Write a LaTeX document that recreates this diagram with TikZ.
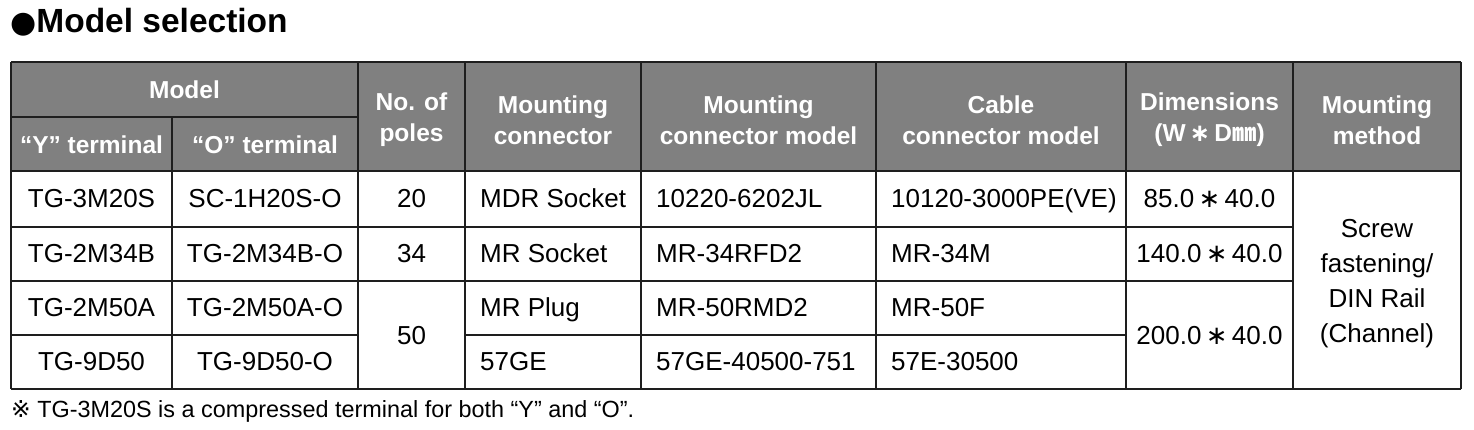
\documentclass[tikz,border=0pt]{standalone}
\usepackage{fontspec}
\setmainfont{Liberation Sans}
\newfontfamily\dejavu{DejaVu Sans}
\newfontfamily\cjk{Noto Sans CJK KR}
\definecolor{hdgray}{HTML}{808080}
\definecolor{gridc}{HTML}{1E1E1E}
\begin{document}
\begin{tikzpicture}[x=1pt,y=-1pt,
  hd/.style={font=\fontsize{24.5}{31}\selectfont\bfseries, text=white, align=center, inner sep=0pt},
  bd/.style={font=\fontsize{26}{35}\selectfont, text=black, align=center, inner sep=0pt, text height=18.6pt, text depth=0pt},
  bdm/.style={font=\fontsize{26}{35}\selectfont, text=black, align=center, inner sep=0pt},
  bl/.style={bd, anchor=west},
  gridline/.style={line width=1.4pt, draw=gridc}
]
\useasboundingbox (0,0) rectangle (1474,430);
% title
\node[anchor=west, inner sep=0pt, font=\fontsize{33.5}{38}\selectfont\bfseries] (title) at (10,22) {{\dejavu\fontsize{30}{30}\selectfont ●}Model selection};
% backgrounds
\fill[hdgray] (11,62) rectangle (1461,171);
\fill[white] (11,171) rectangle (1461,389);
% grid
\draw[gridline] (11,62) -- (1461,62);
\draw[gridline] (11,117) -- (358,117);
\draw[gridline] (11,171) -- (1461,171);
\draw[gridline] (11,227) -- (1293,227);
\draw[gridline] (11,281) -- (1293,281);
\draw[gridline] (11,335) -- (358,335);
\draw[gridline] (465,335) -- (1126,335);
\draw[gridline] (11,389) -- (1461,389);
\draw[gridline] (11,62) -- (11,389);
\draw[gridline] (172,117) -- (172,389);
\foreach \x in {358,465,641,876,1126,1293,1461} \draw[gridline] (\x,62) -- (\x,389);
% header
\node[hd] (hmodel) at (184.5,90) {Model};
\node[hd] (hy) at (91.5,144.5) {“Y” terminal};
\node[hd] (ho) at (265,144.5) {“O” terminal};
\node[hd] (hpoles) at (411.5,120) {No. of\\poles};
\node[hd] (hmc) at (553,120) {Mounting\\connector};
\node[hd] (hmcm) at (758.5,120) {Mounting\\connector model};
\node[hd] (hccm) at (1001,120) {Cable\\connector model};
\node[hd] (hdim) at (1209.5,120) {Dimensions\\(W{\dejavu\,∗\,}D{\cjk ㎜})};
\node[hd] (hmeth) at (1377,120) {Mounting\\method};
% body row 1
\node[bd] (y1) at (91.5,198.5) {TG-3M20S};
\node[bd] (o1) at (265,198.5) {SC-1H20S-O};
\node[bd] (p1) at (411.5,198.5) {20};
\node[bl] (mc1) at (480,198.5) {MDR Socket};
\node[bl] (mcm1) at (656,198.5) {10220-6202JL};
\node[bl] (ccm1) at (891,198.5) {10120-3000PE(VE)};
\node[bd] (d1) at (1209.5,198.5) {85.0{\dejavu\,∗\,}40.0};
% row 2
\node[bd] (y2) at (91.5,253.5) {TG-2M34B};
\node[bd] (o2) at (265,253.5) {TG-2M34B-O};
\node[bd] (p2) at (411.5,253.5) {34};
\node[bl] (mc2) at (480,253.5) {MR Socket};
\node[bl] (mcm2) at (656,253.5) {MR-34RFD2};
\node[bl] (ccm2) at (891,253.5) {MR-34M};
\node[bd] (d2) at (1209.5,253.5) {140.0{\dejavu\,∗\,}40.0};
% row 3
\node[bd] (y3) at (91.5,307.5) {TG-2M50A};
\node[bd] (o3) at (265,307.5) {TG-2M50A-O};
\node[bl] (mc3) at (480,307.5) {MR Plug};
\node[bl] (mcm3) at (656,307.5) {MR-50RMD2};
\node[bl] (ccm3) at (891,307.5) {MR-50F};
% row 4
\node[bd] (y4) at (91.5,361.5) {TG-9D50};
\node[bd] (o4) at (265,361.5) {TG-9D50-O};
\node[bl] (mc4) at (480,361.5) {57GE};
\node[bl] (mcm4) at (656,361.5) {57GE-40500-751};
\node[bl] (ccm4) at (891,361.5) {57E-30500};
% merged
\node[bd] (p34) at (411.5,335) {50};
\node[bd] (d34) at (1209.5,335) {200.0{\dejavu\,∗\,}40.0};
\node[bdm] (meth) at (1377,284) {Screw\\fastening/\\DIN Rail\\(Channel)};
% footnote
\node[anchor=west, inner sep=0pt, font=\fontsize{23.4}{27}\selectfont] (note) at (11,411) {{\dejavu ※} TG-3M20S is a compressed terminal for both “Y” and “O”.};
\end{tikzpicture}
\end{document}
